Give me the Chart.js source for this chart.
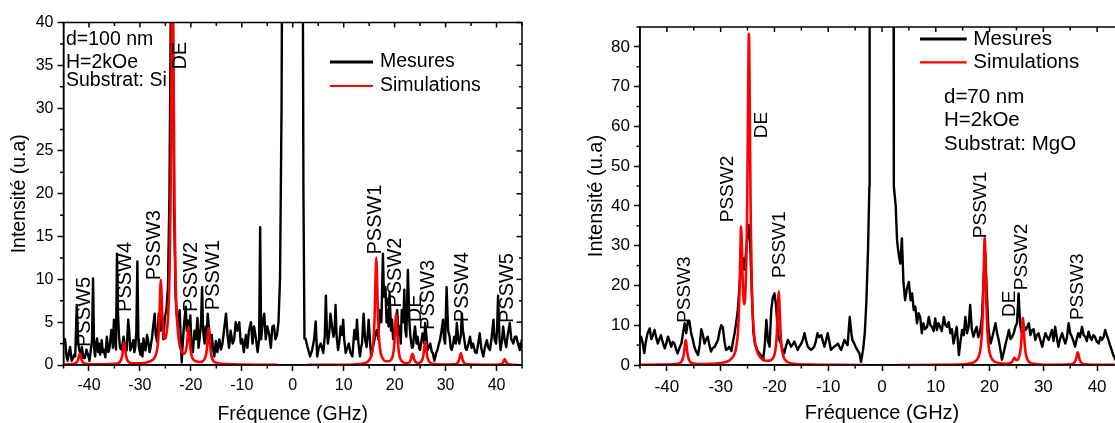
<!DOCTYPE html>
<html><head><meta charset="utf-8">
<script src="https://cdn.jsdelivr.net/npm/chart.js@4.4.1/dist/chart.umd.min.js"></script>
<style>
html,body{margin:0;padding:0;background:#fff;overflow:hidden;width:1115px;height:423px;position:relative;}
.box{position:absolute;top:0;height:440px;}
#w1{left:0;width:540px;}
#w2{left:570px;width:564px;}
</style></head><body>
<div class="box" id="w1"><canvas id="c1"></canvas></div>
<div class="box" id="w2"><canvas id="c2"></canvas></div>
<script>
// ---------- DATA ----------
const seriesNames = ["Mesures", "Simulations"];
const xTicks = [-40, -30, -20, -10, 0, 10, 20, 30, 40];
const yTicksSi = [0, 5, 10, 15, 20, 25, 30, 35, 40];
const yTicksMgO = [0, 10, 20, 30, 40, 50, 60, 70, 80];
const infoSi = ["d=100 nm", "H=2kOe", "Substrat: Si"];
const infoMgO = ["d=70 nm", "H=2kOe", "Substrat: MgO"];

// [fréquence (GHz), intensité]
const mesuresSi = [
[-45,3.1],[-44.7,3.0],[-44.4,1.0],[-44.2,0.5],[-43.9,1.5],[-43.7,2.1],[-43.4,0.5],[-43.2,0.7],[-42.9,1.2],[-42.7,1.0],[-42.4,7.0],[-42.1,2.5],[-41.9,1.7],[-41.6,1.2],[-41.4,2.1],[-41.1,0.8],[-40.8,0.8],[-40.5,1.8],[-40.1,1.0],[-39.9,0.5],[-39.7,1.4],[-39.4,3.0],[-39.2,10.1],[-39.0,2.0],[-38.8,1.0],[-38.6,2.5],[-38.4,3.1],[-38.2,1.5],[-38.0,2.5],[-37.8,1.2],[-37.5,2.9],[-37.3,1.5],[-37.1,1.8],[-36.8,0.9],[-36.5,3.3],[-36.2,1.5],[-36.0,1.8],[-35.8,3.0],[-35.6,4.1],[-35.3,2.0],[-35.1,5.3],[-34.9,3.0],[-34.7,1.8],[-34.5,13.0],[-34.3,6.0],[-34.1,3.3],[-33.9,2.0],[-33.6,1.8],[-33.4,2.5],[-33.2,3.3],[-32.9,2.0],[-32.6,1.7],[-32.3,5.3],[-32.1,4.0],[-31.9,1.7],[-31.6,2.2],[-31.3,2.9],[-31.1,1.5],[-30.9,2.1],[-30.7,4.0],[-30.5,12.1],[-30.3,3.0],[-30.2,2.1],[-29.9,1.2],[-29.7,2.5],[-29.5,1.0],[-29.3,3.1],[-29.1,2.0],[-28.9,1.7],[-28.6,3.5],[-28.4,2.9],[-28.1,1.5],[-27.9,2.1],[-27.6,3.3],[-27.4,4.5],[-27.1,6.0],[-26.9,3.5],[-26.6,2.7],[-26.3,6.0],[-26.0,4.0],[-25.7,6.2],[-25.4,3.0],[-25.1,5.5],[-24.8,6.5],[-24.5,9.0],[-24.2,20],[-23.9,45],[-23.6,45],[-23.3,18],[-23.0,8.0],[-22.8,6.0],[-22.5,4.5],[-22.2,6.4],[-22.0,3.5],[-21.8,0.3],[-21.6,2.5],[-21.3,5.0],[-21.0,6.8],[-20.8,4.0],[-20.6,5.2],[-20.4,3.5],[-20.1,5.8],[-19.9,2.5],[-19.6,1.5],[-19.3,4.0],[-19.0,3.0],[-18.7,5.5],[-18.5,2.0],[-18.3,3.0],[-18.0,5.0],[-17.8,9.1],[-17.6,4.0],[-17.3,2.5],[-17.1,4.5],[-16.9,3.0],[-16.7,6.0],[-16.4,4.0],[-16.1,2.0],[-15.9,3.5],[-15.7,2.2],[-15.4,1.0],[-15.1,2.8],[-14.8,1.5],[-14.4,3.0],[-14.1,1.8],[-13.8,2.5],[-13.5,4.0],[-13.1,6.0],[-12.8,3.5],[-12.5,2.0],[-12.2,4.0],[-11.8,2.5],[-11.5,3.0],[-11.2,5.0],[-10.9,4.0],[-10.5,5.0],[-10.2,2.5],[-9.9,3.0],[-9.6,1.5],[-9.2,3.5],[-8.9,2.0],[-8.6,4.0],[-8.2,5.0],[-7.9,2.5],[-7.6,4.5],[-7.2,3.0],[-6.9,1.5],[-6.6,3.0],[-6.4,16.1],[-6.2,3.0],[-5.9,5.0],[-5.6,6.0],[-5.3,3.0],[-5.0,4.5],[-4.6,3.5],[-4.3,2.0],[-4.0,4.5],[-3.7,4.6],[-3.4,3.0],[-3.1,3.5],[-2.8,5.0],[-2.5,10],[-2.2,30],[-2.0,60],[-1.0,200],[0,300],[1.0,200],[1.9,60],[2.1,20],
[2.3,3.1],[2.5,3.1],[2.9,2.1],[3.4,1.0],[3.8,1.75],[4.2,3.0],[4.5,5.1],[4.8,1.0],[5.1,2.0],[5.5,2.5],[6.0,1.4],[6.3,3.5],[6.5,8.1],[6.7,4.0],[6.9,2.5],[7.2,4.0],[7.4,6.0],[7.7,4.5],[8.0,3.3],[8.2,4.0],[8.4,7.0],[8.6,3.5],[8.9,1.75],[9.2,3.0],[9.4,4.5],[9.7,3.5],[9.9,5.3],[10.1,3.0],[10.4,1.4],[10.7,2.0],[11.0,2.5],[11.3,1.5],[11.7,1.0],[11.9,2.5],[12.1,4.1],[12.4,3.0],[12.6,5.3],[12.9,2.5],[13.2,1.0],[13.4,2.0],[13.6,2.5],[13.9,6.0],[14.2,3.0],[14.5,2.1],[14.7,3.5],[14.9,5.3],[15.2,2.5],[15.4,1.0],[15.7,2.0],[15.9,2.5],[16.2,3.5],[16.5,4.1],[16.8,3.0],[17.1,6.4],[17.4,5.0],[17.7,13.0],[17.9,8.0],[18.2,9.1],[18.4,5.0],[18.6,6.4],[18.8,4.5],[19.0,8.4],[19.3,4.0],[19.5,5.3],[19.7,3.0],[19.9,3.3],[20.2,4.5],[20.5,6.4],[20.8,3.5],[21.0,4.5],[21.2,2.5],[21.4,6.4],[21.7,5.0],[21.9,8.8],[22.1,4.0],[22.3,3.3],[22.6,11.1],[22.9,5.0],[23.1,3.3],[23.4,2.0],[23.6,2.1],[23.8,3.5],[24.0,4.5],[24.3,2.5],[24.5,3.3],[24.8,2.0],[25.0,1.75],[25.3,3.0],[25.5,3.7],[25.8,2.5],[26.0,4.9],[26.3,3.0],[26.5,1.75],[26.8,2.2],[27.0,2.5],[27.3,1.5],[27.5,1.4],[27.8,0.5],[28.0,1.0],[28.2,1.5],[28.4,1.75],[28.7,2.5],[28.9,2.9],[29.2,4.0],[29.5,5.3],[29.7,3.0],[29.9,2.5],[30.2,9.1],[30.5,4.0],[30.8,3.3],[31.0,2.0],[31.2,1.75],[31.5,2.5],[31.7,3.3],[32.0,2.5],[32.2,4.9],[32.5,3.0],[32.7,2.5],[33.0,3.5],[33.2,6.0],[33.4,4.0],[33.6,3.3],[33.9,2.0],[34.1,1.75],[34.5,2.5],[34.8,3.3],[35.1,2.0],[35.4,2.5],[35.8,1.5],[36.1,1.4],[36.4,2.5],[36.7,3.7],[37.0,2.0],[37.4,1.0],[37.7,2.0],[38.1,2.9],[38.4,2.0],[38.7,1.75],[39.0,3.0],[39.4,5.3],[39.6,3.0],[39.9,2.5],[40.1,4.0],[40.3,8.1],[40.6,3.0],[40.8,1.75],[41.1,3.0],[41.3,4.5],[41.6,3.0],[41.9,2.1],[42.2,3.5],[42.6,4.9],[42.9,3.0],[43.3,2.5],[43.6,3.3],[43.9,3.3],[44.2,2.5],[44.6,1.75],[45,3.0]
];

const simulationsSi = [
[-45,0.05],[-43.5,0.1],[-42.6,0.22],[-42.2,0.52],[-42.0,0.95],[-41.8,1.35],[-41.6,0.95],[-41.4,0.52],[-41.0,0.22],[-40.3,0.1],[-38,0.08],[-36,0.1],[-34.5,0.17],[-33.9,0.38],[-33.5,1.0],[-33.3,1.85],[-33.1,2.65],[-32.9,1.85],[-32.7,1.0],[-32.3,0.4],[-31.6,0.2],[-30,0.2],[-28.5,0.32],[-27.5,0.6],[-27,1.0],[-26.6,1.9],[-26.4,3.0],[-26.2,5.2],[-26.1,7.0],[-26.0,9.0],[-25.9,9.95],[-25.8,9.1],[-25.7,7.3],[-25.6,5.65],[-25.4,3.76],[-25.2,3.1],[-25.0,3.1],[-24.8,3.6],[-24.6,4.6],[-24.4,6.5],[-24.2,10.3],[-24.0,18.2],[-23.8,34.8],[-23.6,50],[-23.4,34.7],[-23.2,18.1],[-23.0,10.1],[-22.8,6.3],[-22.6,4.3],[-22.3,2.65],[-22.0,1.85],[-21.7,1.45],[-21.4,1.3],[-21.1,1.45],[-20.9,1.9],[-20.75,2.5],[-20.65,3.2],[-20.55,4.0],[-20.45,4.4],[-20.35,3.9],[-20.25,3.1],[-20.15,2.4],[-19.95,1.4],[-19.75,0.9],[-19.45,0.6],[-19.0,0.43],[-18.3,0.35],[-17.7,0.43],[-17.3,0.7],[-17.0,1.25],[-16.8,2.2],[-16.7,3.0],[-16.6,3.9],[-16.5,4.3],[-16.4,3.9],[-16.3,3.0],[-16.2,2.2],[-16.0,1.2],[-15.7,0.6],[-15.3,0.33],[-14.5,0.18],[-13,0.1],[-10,0.05],[-6,0.03],[-3,0.02],[0,null],
[3,0.02],[8,0.02],[12,0.06],[14,0.2],[15,0.56],[15.5,1.27],[15.8,2.52],[16.0,4.52],[16.1,6.27],[16.2,8.7],[16.3,11.3],[16.4,12.55],[16.5,11.3],[16.6,8.7],[16.7,6.3],[16.8,4.6],[17.0,2.6],[17.3,1.3],[17.7,0.72],[18.3,0.43],[18.9,0.43],[19.3,0.6],[19.6,1.0],[19.8,1.65],[19.95,2.6],[20.1,4.15],[20.2,5.4],[20.3,6.0],[20.4,5.4],[20.5,4.15],[20.65,2.6],[20.8,1.65],[21.0,0.95],[21.3,0.52],[21.8,0.27],[22.4,0.21],[22.9,0.31],[23.2,0.72],[23.4,1.2],[23.5,1.3],[23.6,1.2],[23.8,0.72],[24.1,0.36],[24.6,0.24],[25.0,0.3],[25.4,0.6],[25.6,1.0],[25.8,1.88],[25.9,2.45],[26.0,2.7],[26.1,2.45],[26.2,1.85],[26.4,0.98],[26.6,0.58],[27.0,0.25],[27.8,0.1],[30,0.05],[31.5,0.07],[32.2,0.17],[32.6,0.5],[32.8,0.97],[33.0,1.4],[33.2,0.97],[33.4,0.5],[33.8,0.17],[34.5,0.07],[37,0.03],[40.2,0.03],[40.8,0.08],[41.2,0.23],[41.4,0.45],[41.6,0.7],[41.8,0.48],[42.0,0.25],[42.4,0.09],[43.2,0.03],[44,0.02]
];

const mesuresMgO = [
[-45,6.5],[-44.8,7.1],[-44.5,5.5],[-44.2,3.0],[-43.9,6.0],[-43.6,8.0],[-43.2,9.2],[-42.9,6.5],[-42.6,7.5],[-42.3,8.8],[-42.0,7.0],[-41.7,5.4],[-41.4,6.5],[-41.1,7.5],[-40.8,5.8],[-40.4,4.2],[-40.1,5.5],[-39.8,7.1],[-39.5,6.0],[-39.2,4.6],[-38.9,5.8],[-38.6,5.4],[-38.3,4.0],[-38.0,2.9],[-37.6,4.5],[-37.3,5.4],[-37.0,8.0],[-36.7,10.5],[-36.4,8.0],[-36.1,10.9],[-35.8,11.0],[-35.5,8.0],[-35.2,6.5],[-34.9,4.6],[-34.6,3.5],[-34.2,2.5],[-33.9,5.0],[-33.6,9.0],[-33.3,7.5],[-33.0,5.4],[-32.7,6.5],[-32.4,7.1],[-32.1,5.0],[-31.8,3.4],[-31.5,4.2],[-31.1,4.6],[-30.8,5.5],[-30.5,6.3],[-30.2,8.5],[-29.9,10.0],[-29.6,9.5],[-29.3,6.0],[-29.0,3.8],[-28.7,4.0],[-28.4,4.6],[-28.0,3.5],[-27.7,6.0],[-27.4,8.0],[-27.1,10.8],[-26.8,14],[-26.5,20],[-26.2,25],[-25.9,27],[-25.6,24],[-25.3,28],[-25.0,33],[-24.8,35.2],[-24.5,30],[-24.2,18],[-23.9,8],[-23.6,5.0],[-23.4,4.6],[-23.1,3.5],[-22.8,2.9],[-22.5,2.5],[-22.1,1.2],[-21.8,5.0],[-21.5,11.3],[-21.2,6.0],[-20.9,4.6],[-20.6,13.8],[-20.3,17],[-20.0,18],[-19.7,15],[-19.4,9],[-19.1,6.3],[-18.8,5.4],[-18.5,4.0],[-18.2,2.9],[-17.9,4.5],[-17.5,6.3],[-17.2,5.5],[-16.9,4.6],[-16.6,5.2],[-16.3,5.9],[-16.0,4.8],[-15.7,3.8],[-15.4,4.6],[-15.0,5.4],[-14.7,6.5],[-14.4,8.0],[-14.1,6.0],[-13.8,4.6],[-13.5,4.2],[-13.2,3.8],[-12.9,4.2],[-12.6,4.6],[-12.3,6.0],[-12.0,8.0],[-11.7,7.0],[-11.3,7.5],[-11.0,6.0],[-10.7,4.6],[-10.4,6.2],[-10.1,8.0],[-9.8,6.0],[-9.5,3.8],[-9.2,4.2],[-8.9,4.6],[-8.5,5.0],[-8.2,5.4],[-7.9,4.5],[-7.6,3.8],[-7.3,5.0],[-7.0,6.3],[-6.7,5.6],[-6.4,5.0],[-6.0,12.1],[-5.7,8.0],[-5.5,6.3],[-5.2,5.5],[-4.9,4.6],[-4.6,3.8],[-4.2,2.9],[-3.9,0.8],[-3.5,4.0],[-3.2,8.0],[-2.9,16],[-2.6,29],[-2.35,45],[-2.3,100],[-2.0,300],[0,500],[2.0,300],[2.15,100],[2.2,45],[2.55,40],[2.8,31.4],[3.0,28.9],[3.2,27],[3.4,25.5],[3.7,31.8],[4.0,20.5],[4.3,16.3],[4.6,19],[5.0,20.9],[5.3,16.3],[5.6,18],[5.9,13.8],[6.2,14.7],[6.5,10.5],[6.8,13],[7.1,12.1],[7.4,8.0],[7.7,10.5],[8.0,9.0],[8.4,9.6],[8.7,12.1],[9.0,10.0],[9.3,9.6],[9.6,8.5],[9.9,11.7],[10.2,8.8],[10.5,10.5],[10.8,9.6],[11.1,8.5],[11.5,12.1],[11.8,10],[12.1,9.6],[12.4,10.8],[12.7,8.0],[13.0,9.0],[13.3,5.4],[13.6,7.5],[13.9,9.6],[14.3,2.5],[14.6,6.0],[14.9,8.8],[15.2,7.5],[15.5,12.1],[15.8,8.0],[16.1,9.6],[16.4,15.1],[16.7,9.0],[17.0,7.1],[17.3,8.5],[17.6,9.6],[17.9,7.0],[18.2,8.0],[18.6,12],[18.9,22],[19.2,28],[19.5,18],[19.8,9],[20.2,5.4],[20.6,7.5],[21.1,10.5],[21.4,8.0],[21.7,6.3],[22.0,4.0],[22.3,1.3],[22.7,3.5],[23.0,5.4],[23.3,7.0],[23.6,8.8],[23.9,6.5],[24.2,7.1],[24.5,8.0],[24.8,9.6],[25.1,10.5],[25.4,18],[25.7,10],[26.0,8.0],[26.3,10.2],[26.7,8.8],[27.0,9.5],[27.3,10.5],[27.6,7.5],[27.9,8.8],[28.2,9.0],[28.5,6.3],[28.8,7.5],[29.1,8.0],[29.5,6.0],[29.8,4.6],[30.1,6.5],[30.4,8.0],[30.7,7.0],[31.0,6.3],[31.3,7.5],[31.6,8.8],[31.9,6.0],[32.2,9.6],[32.5,7.0],[32.8,4.6],[33.1,6.5],[33.5,8.0],[33.8,6.5],[34.1,5.4],[34.4,7.0],[34.7,10.5],[35.0,8.0],[35.3,7.1],[35.6,6.0],[35.9,4.6],[36.2,6.5],[36.5,8.0],[36.8,7.0],[37.2,9.6],[37.5,7.5],[37.8,7.1],[38.1,6.0],[38.4,8.4],[38.7,7.0],[39.0,6.3],[39.3,7.5],[39.6,7.1],[39.9,6.0],[40.3,5.4],[40.6,7.0],[40.9,6.3],[41.2,7.0],[41.5,8.8],[41.8,7.5],[42.1,6.3],[42.4,5.0],[42.7,3.8],[43.0,2.5],[43.4,1.3],[43.7,3.0],[44.0,4.0],[44.5,5.5],[45,5.0]
];

const simulationsMgO = [
[-45,0.03],[-40,0.09],[-38,0.29],[-37.3,0.82],[-36.9,2.3],[-36.7,4.35],[-36.6,5.65],[-36.5,6.28],[-36.4,5.65],[-36.3,4.35],[-36.1,2.3],[-35.7,0.82],[-35.0,0.35],[-33,0.22],[-30,0.5],[-28.5,1.05],[-27.6,2.3],[-27.2,3.8],[-26.9,6.5],[-26.7,10.2],[-26.5,18.1],[-26.4,24.4],[-26.3,31.3],[-26.2,34.9],[-26.1,32.2],[-26.0,26.3],[-25.9,21.0],[-25.8,17.5],[-25.7,15.8],[-25.6,15.3],[-25.5,16.2],[-25.4,18.3],[-25.3,22],[-25.2,27.8],[-25.1,36.9],[-25.0,50.3],[-24.9,67.2],[-24.8,81.2],[-24.75,83.3],[-24.65,74.9],[-24.55,57.8],[-24.4,35.6],[-24.2,19.4],[-24.0,11.8],[-23.7,6.6],[-23.3,3.8],[-22.8,2.2],[-22.2,1.4],[-21.5,1.07],[-20.9,1.1],[-20.4,1.5],[-20.0,2.6],[-19.7,5.1],[-19.5,9.4],[-19.4,12.95],[-19.3,16.7],[-19.2,18.55],[-19.1,16.7],[-19.0,12.9],[-18.9,9.3],[-18.7,4.95],[-18.4,2.45],[-18.0,1.25],[-17.2,0.53],[-15.5,0.2],[-12,0.07],[-8,0.03],[-3.1,0.01],[0,null],
[3.1,0.01],[10,0.04],[14,0.12],[16,0.31],[17.2,0.8],[17.9,1.9],[18.3,3.95],[18.6,8.5],[18.8,16],[18.9,22.2],[19.0,28.8],[19.1,32.0],[19.2,28.8],[19.3,22.2],[19.4,16],[19.6,8.5],[19.9,3.95],[20.3,1.9],[21.0,0.82],[22.0,0.42],[23.0,0.33],[23.8,0.47],[24.2,0.84],[24.45,1.47],[24.6,1.79],[24.75,1.6],[25.0,1.23],[25.3,1.43],[25.6,2.5],[25.8,4.33],[25.95,7.0],[26.05,9.45],[26.15,11.5],[26.2,11.8],[26.3,10.6],[26.4,8.17],[26.5,5.9],[26.7,3.15],[27.0,1.5],[27.5,0.64],[28.5,0.25],[31,0.06],[33.5,0.05],[35,0.16],[35.6,0.4],[36.0,1.17],[36.2,2.2],[36.3,2.88],[36.4,3.2],[36.5,2.88],[36.6,2.2],[36.8,1.17],[37.2,0.4],[37.8,0.15],[39,0.05],[42,0.03],[45,0.02]
];

// [texte, fréquence, intensité] : point de départ des étiquettes verticales
const labelsSi = [
["PSSW5",-40.8,2.1],["PSSW4",-32.8,6.2],["PSSW3",-27.1,9.9],["DE",-22.0,34.5],["PSSW2",-19.9,6.2],["PSSW1",-15.6,6.4],
["PSSW1",16.3,12.9],["PSSW2",20.2,6.7],["DE",24.1,5.0],["PSSW3",26.7,4.1],["PSSW4",33.3,5.0],["PSSW5",42.1,4.9]
];
const labelsMgO = [
["PSSW3",-36.6,10.6],["PSSW2",-28.6,35.9],["DE",-22.3,57],["PSSW1",-19.1,21.9],
["PSSW1",18.3,31.9],["DE",23.7,12.1],["PSSW2",25.9,18.8],["PSSW3",36.4,11.3]
];

// ---------- RENDERING ----------
const FAM = "'Liberation Sans', Arial, Helvetica, sans-serif";
Chart.defaults.font.family = FAM;
Chart.defaults.color = '#000';

const deco = {
  id: 'deco',
  afterDraw(chart, _args, o) {
    const ctx = chart.ctx, a = chart.chartArea, xs = chart.scales.x, ys = chart.scales.y;
    ctx.save();
    ctx.strokeStyle = '#000'; ctx.lineWidth = 1.5; ctx.lineCap = 'butt';
    ctx.strokeRect(a.left, a.top, a.right - a.left, a.bottom - a.top);
    const seg = (x1, y1, x2, y2) => { ctx.beginPath(); ctx.moveTo(x1, y1); ctx.lineTo(x2, y2); ctx.stroke(); };
    const isMajor = (sc, v) => sc.ticks.some(t => Math.abs(t.value - v) < 1e-6);
    const nx = Math.round((xs.max - xs.min) / o.xMinor);
    for (let i = 0; i <= nx; i++) {
      const v = xs.min + i * o.xMinor, px = xs.getPixelForValue(v), m = isMajor(xs, v);
      if (!m) seg(px, a.bottom, px, a.bottom + 3.5);
      seg(px, a.top, px, a.top + (m ? 5 : 3.5));
    }
    const ny = Math.round((ys.max - ys.min) / o.yMinor);
    for (let i = 0; i <= ny; i++) {
      const v = ys.min + i * o.yMinor, py = ys.getPixelForValue(v), m = isMajor(ys, v);
      if (!m) seg(a.left, py, a.left - 3.5, py);
      seg(a.right, py, a.right - (m ? 5.5 : 3), py);
    }
    // vertical peak labels
    ctx.fillStyle = '#000';
    ctx.font = o.annFont + 'px ' + FAM;
    for (const [t, f, v] of o.labels) {
      ctx.save();
      ctx.translate(xs.getPixelForValue(f), ys.getPixelForValue(v));
      ctx.rotate(-Math.PI / 2);
      ctx.textAlign = 'left'; ctx.textBaseline = 'middle';
      ctx.fillText(t, 0, 0);
      ctx.restore();
    }
    // legend
    const L = o.legend;
    ctx.font = L.font + 'px ' + FAM;
    ctx.textAlign = 'left'; ctx.textBaseline = 'middle';
    chart.data.datasets.forEach((ds, i) => {
      const y = a.top + L.y + i * L.dy;
      ctx.strokeStyle = ds.borderColor; ctx.lineWidth = L.widths[i];
      seg(a.left + L.x, y, a.left + L.x + L.len, y);
      ctx.fillText(ds.label, a.left + L.x + L.len + L.gap, y);
    });
    // info text
    const I = o.info;
    ctx.font = I.font + 'px ' + FAM;
    ctx.textBaseline = 'alphabetic';
    I.lines.forEach((t, i) => ctx.fillText(t, a.left + I.x, a.top + I.ys[i]));
    ctx.restore();
  }
};

function build(id, p) {
  return new Chart(document.getElementById(id), {
    type: 'line',
    data: {
      datasets: [
        { label: seriesNames[0], data: p.meas.map(([x, y]) => ({x, y})), borderColor: '#000000',
          borderWidth: 2.4, pointRadius: 0, tension: 0, order: 1, borderJoinStyle: 'round' },
        { label: seriesNames[1], data: p.sim.map(([x, y]) => ({x, y})), borderColor: '#ff0000',
          borderWidth: 2.6, pointRadius: 0, cubicInterpolationMode: 'monotone', order: 0, spanGaps: false }
      ]
    },
    options: {
      responsive: true, maintainAspectRatio: false, animation: false, events: [],
      layout: { padding: { top: p.top, right: p.right, left: 0, bottom: 0 } },
      plugins: {
        legend: { display: false }, tooltip: { enabled: false },
        deco: { xMinor: 5, yMinor: p.yMinor, labels: p.labels, annFont: p.annFont, legend: p.legend, info: p.info }
      },
      scales: {
        x: {
          type: 'linear', min: -45, max: 45,
          afterBuildTicks: s => { s.ticks = xTicks.map(v => ({value: v})); },
          afterFit: s => { s.height = p.xh; },
          grid: { drawOnChartArea: false, drawTicks: true, tickLength: 6, tickWidth: 1.5, tickColor: '#000' },
          border: { display: true, color: '#000', width: 1.5 },
          ticks: { font: {size: p.tick}, padding: p.xpad, color: '#000', maxRotation: 0, autoSkip: false },
          title: { display: true, text: 'Fréquence (GHz)', font: {size: p.title}, color: '#000', padding: {top: 0, bottom: p.xtpad} }
        },
        y: {
          type: 'linear', min: 0, max: p.ymax,
          afterBuildTicks: s => { s.ticks = p.yTicks.map(v => ({value: v})); },
          afterFit: s => { s.width = p.yw; },
          grid: { drawOnChartArea: false, drawTicks: true, tickLength: 6, tickWidth: 1.5, tickColor: '#000' },
          border: { display: true, color: '#000', width: 1.5 },
          ticks: { font: {size: p.tick}, padding: 4, color: '#000', autoSkip: false },
          title: { display: true, text: 'Intensité (u.a)', font: {size: p.title}, color: '#000', padding: {top: p.ytpad, bottom: 0} }
        }
      }
    },
    plugins: [deco]
  });
}

build('c1', {
  meas: mesuresSi, sim: simulationsSi, labels: labelsSi, yTicks: yTicksSi, ymax: 40, yMinor: 2.5,
  top: 22.5, right: 18, yw: 63.5, xh: 75, tick: 16, title: 19.5, xpad: 5, xtpad: 14, ytpad: 8, annFont: 20,
  legend: { x: 266.5, y: 39.5, dy: 24, len: 43, gap: 7, font: 19.5, widths: [3, 2.2] },
  info: { x: 2.5, ys: [22.5, 45.5, 63.5], font: 19.5, lines: infoSi }
});
build('c2', {
  meas: mesuresMgO, sim: simulationsMgO, labels: labelsMgO, yTicks: yTicksMgO, ymax: 85, yMinor: 5,
  top: 27, right: 10, yw: 70, xh: 75, tick: 17, title: 20, xpad: 6, xtpad: 15, ytpad: 14, annFont: 19,
  legend: { x: 280, y: 12, dy: 23.3, len: 46.7, gap: 6.6, font: 20.5, widths: [3, 2.2] },
  info: { x: 304, ys: [75.7, 99, 123], font: 20.5, lines: infoMgO }
});
</script>
</body></html>
